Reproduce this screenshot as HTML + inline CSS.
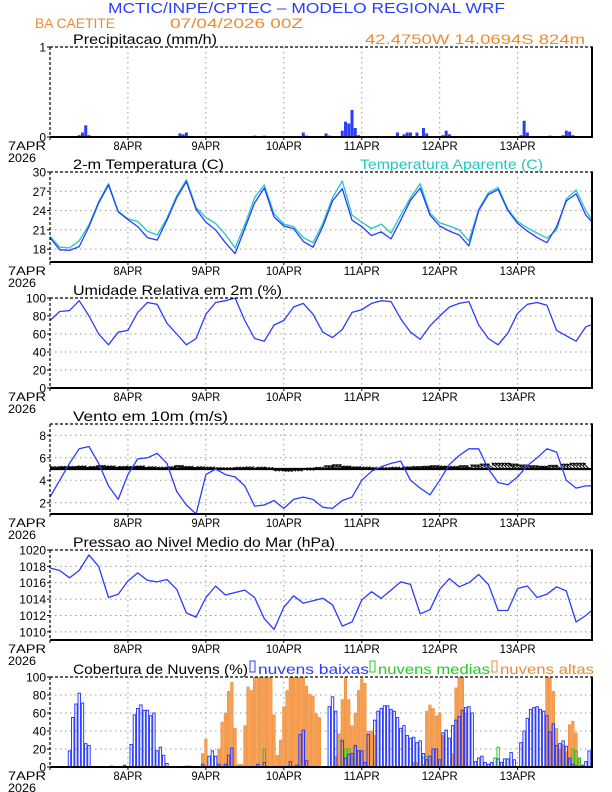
<!DOCTYPE html>
<html><head><meta charset="utf-8"><style>
html,body{margin:0;padding:0;background:#fff;}
svg{display:block;font-family:"Liberation Sans",sans-serif;}
</style></head><body>
<svg id="chart" width="612" height="792" viewBox="0 0 612 792" xmlns="http://www.w3.org/2000/svg">
<text x="108" y="13" font-size="15" fill="#2a3cff" textLength="397" lengthAdjust="spacingAndGlyphs">MCTIC/INPE/CPTEC – MODELO REGIONAL WRF</text>
<text x="35" y="28" font-size="14" fill="#f08a30" textLength="80" lengthAdjust="spacingAndGlyphs">BA CAETITE</text>
<text x="170" y="28" font-size="14" fill="#f08a30" textLength="133" lengthAdjust="spacingAndGlyphs">07/04/2026 00Z</text>
<text x="365" y="44" font-size="14" fill="#f08a30" textLength="220" lengthAdjust="spacingAndGlyphs">42.4750W 14.0694S 824m</text>
<g id="panels"></g>
</svg>
<script>
// ---- data (hours since 7APR 00Z) ----
const dayLabels = ["7APR","8APR","9APR","10APR","11APR","12APR","13APR"];
const tempT = [19.8,17.9,17.8,18.4,21.5,25.2,28.0,23.8,22.6,21.5,19.8,19.4,22.5,26.0,28.5,24.2,22.2,21.0,19.0,17.3,21.2,25.2,27.5,23.0,21.6,21.2,19.2,18.3,21.5,25.5,27.4,22.5,21.5,20.1,20.7,19.6,22.5,25.6,27.5,23.3,21.6,20.8,20.2,18.5,24.0,26.5,27.3,24.0,22.0,20.8,19.8,19.0,21.5,25.5,26.6,23.3,21.6];
const tempApp = [20.0,18.3,18.2,19.3,21.8,25.4,28.2,23.9,22.7,22.3,20.8,20.2,22.8,26.3,28.8,24.5,22.9,22.0,20.3,18.2,21.8,26.0,28.0,23.5,21.9,21.5,19.8,19.0,22.0,26.0,28.6,23.3,22.2,21.2,21.9,20.5,23.3,26.0,28.2,23.6,22.1,21.6,21.0,19.3,24.2,26.8,27.6,24.2,22.3,21.3,20.5,19.7,21.0,25.8,27.2,24.0,21.7];
const humidity = [75,85,86,97,80,60,48,62,64,84,95,93,72,60,48,55,82,95,97,100,75,55,52,70,75,90,94,82,62,56,65,84,87,94,97,96,77,62,54,69,80,90,94,96,70,55,48,61,83,93,95,92,64,58,52,68,72];
const windSpeed = [2.5,4.0,5.5,6.8,7.0,5.5,3.5,2.3,4.5,5.9,6.0,6.4,5.5,3.0,1.8,1.0,4.5,5.0,4.5,4.3,3.5,1.7,1.8,2.2,1.5,2.3,2.5,2.3,1.6,1.5,2.2,2.5,4.0,4.8,5.2,5.5,5.7,4.0,3.3,2.7,4.0,5.4,6.2,6.8,6.8,5.0,3.8,3.6,4.3,5.3,6.0,6.8,6.5,4.0,3.3,3.5,3.5];
const windU = [-5,-5,-5,-6,-6,-5,-6,-6,-5,-6,-6,-5,-5,-5,-6,-6,-5,-5,-5,-5,-5,-5,-4,-5,-5,-5,-5,-4,-4,-4,-5,-5,-5,-5,-5,-5,-5,-4,-4,-4,-5,-5,-5,-5,-4,-4,-3,-3,-4,-4,-4,-4,-4,-3,-3,-3,-3];
const windV = [0.5,0.8,1,1,1.2,1,1.5,1.2,1,1,1.2,0.8,0.5,0.8,1.5,1,0.8,0.6,0.3,0.2,0.5,0.7,0.6,0.3,-0.5,-0.8,-0.5,0,0.5,1.5,2,1.2,0.8,0.6,0.4,0.3,0.5,0.8,1,1.2,1.5,1.2,1,1.5,2,2.5,3,3,2.5,2,1.5,1.2,1.8,2.5,3,3,3];
const pressure = [1017.8,1017.5,1016.6,1017.5,1019.4,1018.0,1014.2,1014.6,1016.2,1017.2,1016.3,1016.1,1016.4,1015.2,1012.3,1011.8,1014.2,1015.6,1014.5,1014.8,1015.1,1014.2,1011.6,1010.3,1013.0,1014.4,1013.5,1013.8,1014.1,1013.3,1010.7,1011.2,1013.9,1014.9,1014.1,1015.1,1016.1,1015.8,1012.2,1012.7,1015.2,1016.5,1015.5,1016.0,1017.0,1015.8,1012.6,1012.6,1015.3,1015.6,1014.2,1014.6,1015.5,1015.0,1011.2,1012.0,1013.0];
// hourly series (hour index = position)
const precipHours = [9,10,11,12,34,40,41,42,63,66,78,79,85,86,89,90,91,92,93,94,95,107,109,110,111,113,115,116,121,122,123,145,146,147,154,158,159,160,161];
const precipValues = [0.02,0.05,0.13,0.02,0.01,0.04,0.03,0.05,0.015,0.015,0.05,0.015,0.04,0.015,0.01,0.07,0.17,0.15,0.3,0.1,0.02,0.05,0.03,0.05,0.05,0.05,0.1,0.04,0.02,0.07,0.03,0.02,0.18,0.05,0.015,0.02,0.07,0.06,0.02];
const lowCloudHours = [6,7,8,9,10,11,12,19,23,25,26,27,28,29,30,31,32,33,34,35,36,47,49,50,51,52,54,55,56,64,66,74,76,77,78,79,86,87,88,90,91,92,93,94,95,96,97,98,100,101,102,103,104,105,106,107,108,109,110,111,112,113,114,115,116,117,118,119,120,121,122,123,124,125,126,127,128,129,130,131,132,133,134,135,136,138,139,140,141,142,143,145,146,147,148,149,150,151,152,153,154,155,156,157,158,159,160,161,162,164,165,166];
const lowCloudValues = [18,55,70,82,71,26,24,1,2,25,58,65,69,63,63,57,60,18,22,13,4,3,12,18,12,3,3,13,21,3,5,6,2,36,41,7,67,78,62,29,10,14,15,24,18,18,5,36,52,62,65,68,68,64,62,55,43,46,35,32,33,27,29,15,8,12,20,20,8,38,41,32,46,52,56,63,66,67,60,6,10,12,5,3,5,9,5,9,9,16,8,27,40,54,64,66,67,64,62,57,39,48,24,26,29,23,10,3,1,2,6,18];
const midCloudHours = [42,43,66,90,91,92,93,94,95,115,116,136,137,138,139,160,161,162,163];
const midCloudValues = [1,1,20,30,20,20,10,22,18,10,12,5,10,22,5,10,20,18,10];
const highCloudHours = [47,48,52,53,54,55,56,57,58,59,60,61,62,63,64,65,66,67,68,69,70,71,72,73,74,75,76,77,78,79,80,81,82,83,88,89,90,91,92,93,94,95,96,97,98,99,100,112,113,115,116,117,118,119,120,121,124,125,126,127,128,153,154,155,156,157,158,159,160,161,162,163];
const highCloudValues = [15,31,20,50,60,84,94,43,3,3,46,89,85,100,100,100,100,100,100,58,13,30,67,85,100,100,100,100,100,90,81,79,59,55,12,37,75,100,75,46,60,85,98,93,40,40,35,5,5,3,62,69,65,57,60,35,15,88,100,100,60,100,100,84,43,20,25,17,47,51,38,10];
const tempTicks = [18,21,24,27,30];
const humTicks = [0,20,40,60,80,100];
const windTicks = [2,4,6,8];
const presTicks = [1010,1012,1014,1016,1018,1020];
const cloudTicks = [0,20,40,60,80,100];
const precipTicks = [0,1];

// ---- layout ----
const NS = "http://www.w3.org/2000/svg";
const X0 = 50, X1 = 592, HMAX = 166.9;
const xh = h => X0 + h * (X1 - X0) / HMAX;
const root = document.getElementById('panels');
function mk(tag, attrs, parent) {
  const e = document.createElementNS(NS, tag);
  for (const k in attrs) e.setAttribute(k, attrs[k]);
  (parent || root).appendChild(e);
  return e;
}
let clipId = 0;
function panel(name, top, ymin, ymax, ticks, title, titleW) {
  const bot = top + 90;
  const g = mk('g', {});
  
  
  const y = v => bot - (v - ymin) / (ymax - ymin) * 90;
  for (let d = 1; d < 7; d++) {
    const l = mk('line', {x1: xh(d*24), x2: xh(d*24), y1: top, y2: bot, stroke: '#999', 'stroke-width': 1, 'stroke-dasharray': '1.5,3.5'}, g);
    
    
  }
  ticks.forEach(t => {
    if (t !== ymin && t !== ymax && name !== 'precip') {
      const l = mk('line', {x1: X0, x2: X1, y1: y(t), y2: y(t), stroke: '#999', 'stroke-width': 1, 'stroke-dasharray': '1.5,3.5'}, g);
      
      
    }
    const tx = mk('text', {x: X0 - 4, y: y(t) + 4.5, 'font-size': 12, 'text-anchor': 'end', fill: '#000'}, g);
    tx.textContent = t;
    
    
    mk('line', {x1: X0 - 3, x2: X0, y1: y(t), y2: y(t), stroke: '#000'}, g);
  });
  dayLabels.forEach((lab, d) => {
    const first = d === 0;
    const w = lab.length * 7.2;
    const tx = mk('text', {x: first ? 8 : xh(d*24) - w / 2, y: bot + 13, 'font-size': 12, fill: '#000', textLength: first ? 38 : w, lengthAdjust: 'spacingAndGlyphs'}, g);
    tx.textContent = lab;
    
    
    mk('line', {x1: xh(d*24), x2: xh(d*24), y1: bot, y2: bot + 3, stroke: '#000'}, g);
  });
  const yr = mk('text', {x: 8, y: bot + 25, 'font-size': 12, fill: '#000', textLength: 28, lengthAdjust: 'spacingAndGlyphs'}, g);
  yr.textContent = '2026';
  
  
  const tt = mk('text', {x: 73, y: top - 3, 'font-size': 14, fill: '#000', textLength: titleW, lengthAdjust: 'spacingAndGlyphs'}, g);
  tt.textContent = title;
  
  
  clipId++;
  const cp = mk('clipPath', {id: 'c' + clipId}, g);
  mk('rect', {x: X0, y: top, width: X1 - X0, height: 90}, cp);
  const data = mk('g', {'clip-path': 'url(#c' + clipId + ')'}, g);
  const frame = () => {
    mk('line', {x1: X0, x2: X1, y1: top, y2: top, stroke: '#000', 'stroke-width': 1.2, 'stroke-dasharray': '3,2'}, g);
    mk('line', {x1: X0, x2: X0, y1: top, y2: bot, stroke: '#000', 'stroke-width': 1.2, 'stroke-dasharray': '3,2'}, g);
    mk('line', {x1: X1, x2: X1, y1: top - 0.6, y2: bot + 1, stroke: '#000', 'stroke-width': 2}, g);
    mk('line', {x1: X0, x2: X1, y1: bot, y2: bot, stroke: '#000', 'stroke-width': 2}, g);
  };
  return {g: data, y, frame, top, bot};
}
function line(p, arr, color, name) {
  const pts = arr.map((v, k) => xh(k * 3).toFixed(1) + ',' + p.y(v).toFixed(1)).join(' ');
  const pl = mk('polyline', {points: pts, fill: 'none', stroke: color, 'stroke-width': 1.3, 'stroke-linejoin': 'round'}, p.g);
  
  
}
function bars(p, hours, vals, opts, name) {
  hours.forEach((h, i) => {
    const v = vals[i];
    const yv = p.y(v);
    const r = mk('rect', {x: xh(h) - opts.w / 2, y: yv, width: opts.w, height: Math.max(0.5, p.bot - yv), fill: opts.fill, stroke: opts.stroke || 'none', 'stroke-width': opts.sw || 0}, p.g);
    
    
  });
}

const pp = panel('precip', 47, 0, 1, precipTicks, 'Precipitacao (mm/h)', 144);
bars(pp, precipHours, precipValues, {w: 3.0, fill: '#2a3cff'}, 'precip-bar');
pp.frame();

const pt = panel('temperature', 172, 16, 30, tempTicks, '2-m Temperatura (C)', 151);
line(pt, tempApp, '#1fc8c0', 'apparent-temperature-line');
line(pt, tempT, '#2a3cff', 'temperature-line');
pt.frame();
const tl = mk('text', {x: 360, y: 169, 'font-size': 14, fill: '#1fc8c0', textLength: 183, lengthAdjust: 'spacingAndGlyphs'});
tl.textContent = 'Temperatura Aparente (C)';



const ph = panel('humidity', 298, 0, 100, humTicks, 'Umidade Relativa em 2m (%)', 209);
line(ph, humidity, '#2a3cff', 'humidity-line');
ph.frame();

const pw = panel('wind', 424, 1, 9, windTicks, 'Vento em 10m (m/s)', 155);
for (let h = 0; h <= 166; h++) {
  const k = Math.floor(h / 3);
  const u = windU[k], v = windV[k];
  const x1 = xh(h), y1 = pw.y(5);
  const x2 = x1 + u * 2.0, y2 = y1 - v * 2.0;
  const a = Math.atan2(y2 - y1, x2 - x1);
  const ar = mk('path', {d: `M${x1.toFixed(1)},${y1.toFixed(1)}L${x2.toFixed(1)},${y2.toFixed(1)}M${(x2 - 3*Math.cos(a-0.5)).toFixed(1)},${(y2 - 3*Math.sin(a-0.5)).toFixed(1)}L${x2.toFixed(1)},${y2.toFixed(1)}L${(x2 - 3*Math.cos(a+0.5)).toFixed(1)},${(y2 - 3*Math.sin(a+0.5)).toFixed(1)}`, stroke: '#000', 'stroke-width': 0.9, fill: 'none'}, pw.g);
  
  
}
mk('line', {x1: X0, x2: X1, y1: pw.y(5), y2: pw.y(5), stroke: '#000', 'stroke-width': 2.2}, pw.g);
line(pw, windSpeed, '#2a3cff', 'wind-speed-line');
pw.frame();

const pr = panel('pressure', 550, 1009, 1020, presTicks, 'Pressao ao Nivel Medio do Mar (hPa)', 262);
line(pr, pressure, '#2a3cff', 'pressure-line');
pr.frame();

const pc = panel('cloud', 677, 0, 100, cloudTicks, 'Cobertura de Nuvens (%)', 175);
bars(pc, highCloudHours, highCloudValues, {w: 2.6, fill: '#f5a055', stroke: '#f08a30', sw: 0.5}, 'high-cloud-bar');
bars(pc, midCloudHours, midCloudValues, {w: 2.4, fill: 'none', stroke: '#22cc22', sw: 1}, 'mid-cloud-bar');
bars(pc, lowCloudHours, lowCloudValues, {w: 2.4, fill: 'none', stroke: '#2a3cff', sw: 1}, 'low-cloud-bar');
pc.frame();
const legend = [['nuvens baixas', '#2a3cff', 250, 111], ['nuvens medias', '#22cc22', 370, 112], ['nuvens altas', '#f08a30', 492, 94]];
legend.forEach(([t, c, x, w]) => {
  const b = mk('rect', {x: x, y: 661, width: 5, height: 11, fill: 'none', stroke: c, 'stroke-width': 1});
  
  
  const tx = mk('text', {x: x + 8, y: 674, 'font-size': 14, fill: c, textLength: w, lengthAdjust: 'spacingAndGlyphs'});
  tx.textContent = t;
  
  
});
</script>
</body></html>
